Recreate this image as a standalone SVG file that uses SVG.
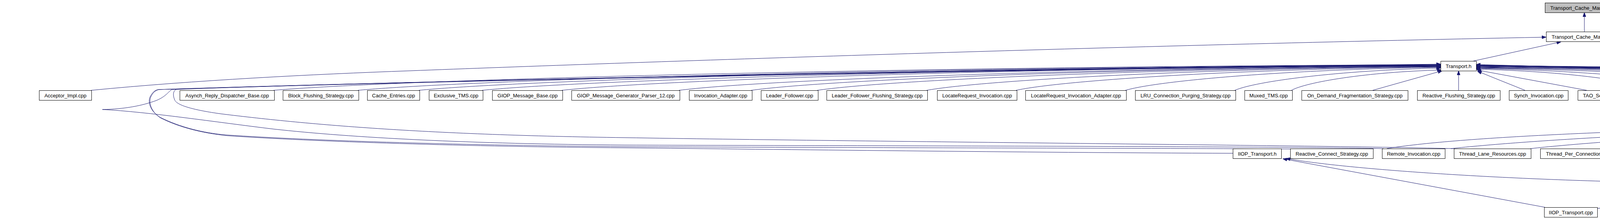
<svg xmlns="http://www.w3.org/2000/svg" width="6255" height="560" viewBox="0 0 6255 560">
<style>
.n rect{fill:#fff;stroke:#000;stroke-width:1}
.g rect{fill:#bfbfbf}
.r rect{stroke:#f00}
text{font-family:"Liberation Sans",Arial,Helvetica,sans-serif;font-size:13px;text-anchor:middle;fill:#000}
#edges path{fill:none;stroke:#191970;stroke-width:1;marker-end:url(#ah)}
</style>
<defs>
<marker id="ah" viewBox="0 0 11 8" refX="11" refY="4" markerWidth="11" markerHeight="8" markerUnits="userSpaceOnUse" orient="auto">
<path d="M0,0 L11,4 L0,8 z" fill="#191970" stroke="#191970" stroke-width="1"/>
</marker>
</defs>
<rect x="0" y="0" width="6255" height="560" fill="#fff"/>
<g id="diagram">
<g id="edges">
<path d="M4056,81 L4056,32"/>
<path d="M3772,156 L3996,107"/>
<path d="M233,231 C500,205 800,190 1050,181 C1600,160 2800,118 3958,95"/>
<path d="M5815,231 C5500,200 4600,125 4154,101"/>
<path d="M6045,231 C5700,200 4700,125 4154,98"/>
<path d="M700,231 C999,205 2194,172 3688,165"/>
<path d="M916,231 C1193,205 2302,172 3688,166"/>
<path d="M1072,231 C1334,205 2380,173 3688,167"/>
<path d="M1234,231 C1479,206 2461,174 3688,168"/>
<path d="M1438,231 C1663,206 2563,174 3688,168"/>
<path d="M1738,231 C1933,206 2713,175 3688,169"/>
<path d="M1923,231 C2100,206 2806,175 3688,169"/>
<path d="M2092,231 C2252,207 2890,176 3688,170"/>
<path d="M2372,231 C2504,207 3030,176 3688,170"/>
<path d="M2601,231 C2710,207 3145,177 3688,171"/>
<path d="M2881,231 C2962,207 3285,178 3688,172"/>
<path d="M3161,231 C3214,208 3425,180 3688,174"/>
<path d="M3306,231 C3344,210 3498,184 3690,179"/>
<path d="M3514,231 L3692,181"/>
<path d="M3734,231 L3734,181"/>
<path d="M3724,380 C3400,372 2200,362 1600,352 C1100,345 800,320 565,291 C500,282 452,270 447,255 C442,243 443,232 452,228 C800,215 2200,180 3688,164"/>
<path d="M3542,380 C3300,374 2200,373 1600,371 C1200,368 900,352 700,330 C550,312 380,286 262,280 C320,279 365,270 400,257 C425,247 432,233 440,229 C800,215 2200,180 3688,165"/>
<path d="M3310,381 C3000,379 2200,378 1600,375 C1200,372 800,360 579,345 C520,340 460,325 410,300 C385,285 378,262 384,248 C390,236 396,231 405,229 C800,215 2200,181 3688,166"/>
<path d="M3156,392 C2600,390 2000,382 1600,378 C1200,375 800,362 582,347 C522,341 462,327 412,302 C387,287 380,262 386,248 C392,236 398,231 407,229 C800,216 2200,182 3688,167"/>
<path d="M3904,231 L3782,182"/>
<path d="M4062,231 L3781,179"/>
<path d="M4242,231 C4196,209 4010,182 3779,177"/>
<path d="M4410,231 C4347,209 4094,181 3779,175"/>
<path d="M4637,231 C4551,208 4208,180 3779,174"/>
<path d="M4850,231 C4743,208 4314,179 3779,173"/>
<path d="M5026,231 C4901,207 4402,178 3779,172"/>
<path d="M5238,231 C5092,207 4508,177 3779,171"/>
<path d="M5815,231 C5611,206 4797,175 3779,169"/>
<path d="M6045,231 C5818,206 4912,174 3779,168"/>
<path d="M4921,380 C5150,330 5414,300 5414,252 C5414,225 5380,215 5250,208 C4700,190 4100,174 3779,170"/>
<path d="M5089,380 C5300,330 5436,300 5436,252 C5436,222 5390,212 5260,206 C4700,188 4100,172 3779,169"/>
<path d="M5268,380 C5430,330 5475,290 5468,250 C5460,220 5400,210 5270,204 C4700,186 4100,171 3779,168"/>
<path d="M5431,380 C5480,330 5500,280 5485,245 C5470,220 5420,208 5280,202 C4700,184 4100,170 3779,167"/>
<path d="M5597,380 C5575,300 5545,240 5490,222 C5420,205 4700,183 3779,166"/>
<path d="M5276,536 C5400,500 5650,460 5700,420 C5730,390 5722,320 5718,285 C5712,260 5680,248 5600,240 C5500,228 5200,205 4900,192 C4400,180 4000,172 3779,168"/>
<path d="M5607,530 C5700,490 5776,440 5776,393 C5776,340 5775,290 5745,262 C5710,240 5640,228 5560,220 C5200,200 4300,178 3779,166"/>
<path d="M4190,380 C4250,350 4350,335 4450,328 C4700,305 5000,275 5160,258 C5185,250 5185,225 5160,217 C5000,200 4300,178 3779,165"/>
<path d="M4884,380 L4926,332"/>
<path d="M5017,380 L4972,332"/>
<path d="M5172,380 L5003,332"/>
<path d="M5326,380 L5029,328"/>
<path d="M5514,380 L5029,323"/>
<path d="M4742,380 L4877,332"/>
<path d="M4584,380 L4876,331"/>
<path d="M4420,380 C4600,350 4750,335 4875,329"/>
<path d="M4186,380 C4400,350 4700,332 4875,327"/>
<path d="M3918,380 C4100,360 4500,335 4875,325"/>
<path d="M3714,380 C3900,360 4300,335 4875,322"/>
<path d="M3550,380 C3700,355 4100,330 4875,320"/>
<path d="M5010,306 L5249,257"/>
<path d="M3955,530 L3284,406"/>
<path d="M4123,464 C3700,452 3400,425 3292,405"/>
<path d="M4304,455 L4612,406"/>
<path d="M4089,533 L4640,472"/>
<path d="M4701,455 L4701,405"/>
<path d="M4701,530 L4701,480"/>
<path d="M5143,531 L4760,474"/>
<path d="M5387,462 L4796,405"/>
<path d="M5526,530 L5469,480"/>
</g>
<g id="n_tcm_inl" class="n g"><rect x="3955.5" y="7.5" width="201" height="25"/><text x="4056" y="24.5">Transport_Cache_Manager.inl</text></g>
<g id="n_tcm_h" class="n"><rect x="3958.5" y="81.5" width="196" height="25"/><text x="4056.5" y="98.5">Transport_Cache_Manager.h</text></g>
<g id="n_transport_h" class="n"><rect x="3688.5" y="156.5" width="91" height="25"/><text x="3734" y="173.5">Transport.h</text></g>
<g id="n_acceptor_impl" class="n"><rect x="100.5" y="231.5" width="134" height="25"/><text x="167.5" y="248.5">Acceptor_Impl.cpp</text></g>
<g id="n_asynch" class="n"><rect x="460.5" y="231.5" width="242" height="25"/><text x="581.5" y="248.5">Asynch_Reply_Dispatcher_Base.cpp</text></g>
<g id="n_block" class="n"><rect x="724.5" y="231.5" width="194" height="25"/><text x="821.5" y="248.5">Block_Flushing_Strategy.cpp</text></g>
<g id="n_cache" class="n"><rect x="940.5" y="231.5" width="134" height="25"/><text x="1007.5" y="248.5">Cache_Entries.cpp</text></g>
<g id="n_exclusive" class="n"><rect x="1098.5" y="231.5" width="138" height="25"/><text x="1167.5" y="248.5">Exclusive_TMS.cpp</text></g>
<g id="n_giop_mb" class="n"><rect x="1260.5" y="231.5" width="180" height="25"/><text x="1350.5" y="248.5">GIOP_Message_Base.cpp</text></g>
<g id="n_giop_mgp12" class="n"><rect x="1463.5" y="231.5" width="277" height="25"/><text x="1602" y="248.5">GIOP_Message_Generator_Parser_12.cpp</text></g>
<g id="n_invocation_adapter" class="n"><rect x="1764.5" y="231.5" width="161" height="25"/><text x="1845" y="248.5">Invocation_Adapter.cpp</text></g>
<g id="n_leader_follower" class="n"><rect x="1948.5" y="231.5" width="146" height="25"/><text x="2021.5" y="248.5">Leader_Follower.cpp</text></g>
<g id="n_lffs" class="n"><rect x="2116.5" y="231.5" width="258" height="25"/><text x="2245.5" y="248.5">Leader_Follower_Flushing_Strategy.cpp</text></g>
<g id="n_lri" class="n"><rect x="2399.5" y="231.5" width="204" height="25"/><text x="2501.5" y="248.5">LocateRequest_Invocation.cpp</text></g>
<g id="n_lria" class="n"><rect x="2625.5" y="231.5" width="258" height="25"/><text x="2754.5" y="248.5">LocateRequest_Invocation_Adapter.cpp</text></g>
<g id="n_lru" class="n"><rect x="2906.5" y="231.5" width="257" height="25"/><text x="3035" y="248.5">LRU_Connection_Purging_Strategy.cpp</text></g>
<g id="n_muxed" class="n"><rect x="3186.5" y="231.5" width="122" height="25"/><text x="3247.5" y="248.5">Muxed_TMS.cpp</text></g>
<g id="n_on_demand" class="n"><rect x="3332.5" y="231.5" width="272" height="25"/><text x="3468.5" y="248.5">On_Demand_Fragmentation_Strategy.cpp</text></g>
<g id="n_rfs" class="n"><rect x="3628.5" y="231.5" width="212" height="25"/><text x="3734.5" y="248.5">Reactive_Flushing_Strategy.cpp</text></g>
<g id="n_synch" class="n"><rect x="3863.5" y="231.5" width="151" height="25"/><text x="3939" y="248.5">Synch_Invocation.cpp</text></g>
<g id="n_tao_sr" class="n"><rect x="4039.5" y="231.5" width="177" height="25"/><text x="4128" y="248.5">TAO_Server_Request.cpp</text></g>
<g id="n_transport_timer" class="n"><rect x="4239.5" y="231.5" width="145" height="25"/><text x="4312" y="248.5">Transport_Timer.cpp</text></g>
<g id="n_wolf" class="n"><rect x="4407.5" y="231.5" width="204" height="25"/><text x="4509.5" y="248.5">Wait_On_Leader_Follower.cpp</text></g>
<g id="n_wolfnu" class="n"><rect x="4634.5" y="231.5" width="190" height="25"/><text x="4729.5" y="248.5">Wait_On_LF_No_Upcall.cpp</text></g>
<g id="n_wo_reactor" class="n"><rect x="4847.5" y="231.5" width="153" height="25"/><text x="4924" y="248.5">Wait_On_Reactor.cpp</text></g>
<g id="n_wo_read" class="n"><rect x="5023.5" y="231.5" width="139" height="25"/><text x="5093" y="248.5">Wait_On_Read.cpp</text></g>
<g id="n_ch_inl" class="n"><rect x="5235.5" y="231.5" width="161" height="25"/><text x="5316" y="248.5">Connection_Handler.inl</text></g>
<g id="n_ptr" class="n"><rect x="5812.5" y="231.5" width="206" height="25"/><text x="5915.5" y="248.5">Profile_Transport_Resolver.cpp</text></g>
<g id="n_tcm_cpp" class="n"><rect x="6042.5" y="231.5" width="209" height="25"/><text x="6147" y="248.5">Transport_Cache_Manager.cpp</text></g>
<g id="n_ch_h" class="n"><rect x="4875.5" y="306.5" width="153" height="25"/><text x="4952" y="323.5">Connection_Handler.h</text></g>
<g id="n_iiop_transport_h" class="n"><rect x="3156.5" y="380.5" width="124" height="25"/><text x="3218.5" y="397.5">IIOP_Transport.h</text></g>
<g id="n_reactive_cs" class="n"><rect x="3303.5" y="380.5" width="212" height="25"/><text x="3409.5" y="397.5">Reactive_Connect_Strategy.cpp</text></g>
<g id="n_remote_inv" class="n"><rect x="3538.5" y="380.5" width="161" height="25"/><text x="3619" y="397.5">Remote_Invocation.cpp</text></g>
<g id="n_tlr" class="n"><rect x="3722.5" y="380.5" width="197" height="25"/><text x="3821" y="397.5">Thread_Lane_Resources.cpp</text></g>
<g id="n_tpch" class="n"><rect x="3943.5" y="380.5" width="247" height="25"/><text x="4067" y="397.5">Thread_Per_Connection_Handler.cpp</text></g>
<g id="n_blocked" class="n"><rect x="4212.5" y="380.5" width="208" height="25"/><text x="4316.5" y="397.5">Blocked_Connect_Strategy.cpp</text></g>
<g id="n_lf_multi" class="n"><rect x="4444.5" y="380.5" width="140" height="25"/><text x="4514.5" y="397.5">LF_Multi_Event.cpp</text></g>
<g id="n_iiop_ch_h" class="n"><rect x="4607.5" y="380.5" width="188" height="25"/><text x="4701.5" y="397.5">IIOP_Connection_Handler.h</text></g>
<g id="n_transport_cpp" class="n"><rect x="4818.5" y="380.5" width="105" height="25"/><text x="4871" y="397.5">Transport.cpp</text></g>
<g id="n_transport_connector" class="n"><rect x="4946.5" y="380.5" width="173" height="25"/><text x="5033" y="397.5">Transport_Connector.cpp</text></g>
<g id="n_connect_strategy" class="n"><rect x="5143.5" y="380.5" width="153" height="25"/><text x="5220" y="397.5">Connect_Strategy.cpp</text></g>
<g id="n_ch_cpp" class="n"><rect x="5319.5" y="380.5" width="168" height="25"/><text x="5403.5" y="397.5">Connection_Handler.cpp</text></g>
<g id="n_lf_cs" class="n"><rect x="5511.5" y="380.5" width="176" height="25"/><text x="5599.5" y="397.5">LF_Connect_Strategy.cpp</text></g>
<g id="n_iiop_ch_cpp" class="n"><rect x="4123.5" y="455.5" width="202" height="25"/><text x="4224.5" y="472.5">IIOP_Connection_Handler.cpp</text></g>
<g id="n_iiop_acceptor_h" class="n r"><rect x="4640.5" y="455.5" width="120" height="25"/><text x="4700.5" y="472.5">IIOP_Acceptor.h</text></g>
<g id="n_iiop_connector_h" class="n r"><rect x="5387.5" y="455.5" width="128" height="25"/><text x="5451.5" y="472.5">IIOP_Connector.h</text></g>
<g id="n_iiop_transport_cpp" class="n"><rect x="3953.5" y="530.5" width="136" height="25"/><text x="4021.5" y="547.5">IIOP_Transport.cpp</text></g>
<g id="n_acceptor_registry" class="n"><rect x="4624.5" y="530.5" width="155" height="25"/><text x="4702" y="547.5">Acceptor_Registry.cpp</text></g>
<g id="n_iiop_acceptor_cpp" class="n"><rect x="5143.5" y="530.5" width="133" height="25"/><text x="5210" y="547.5">IIOP_Acceptor.cpp</text></g>
<g id="n_iiop_connector_cpp" class="n"><rect x="5471.5" y="530.5" width="143" height="25"/><text x="5543" y="547.5">IIOP_Connector.cpp</text></g>
</g>
</svg>
